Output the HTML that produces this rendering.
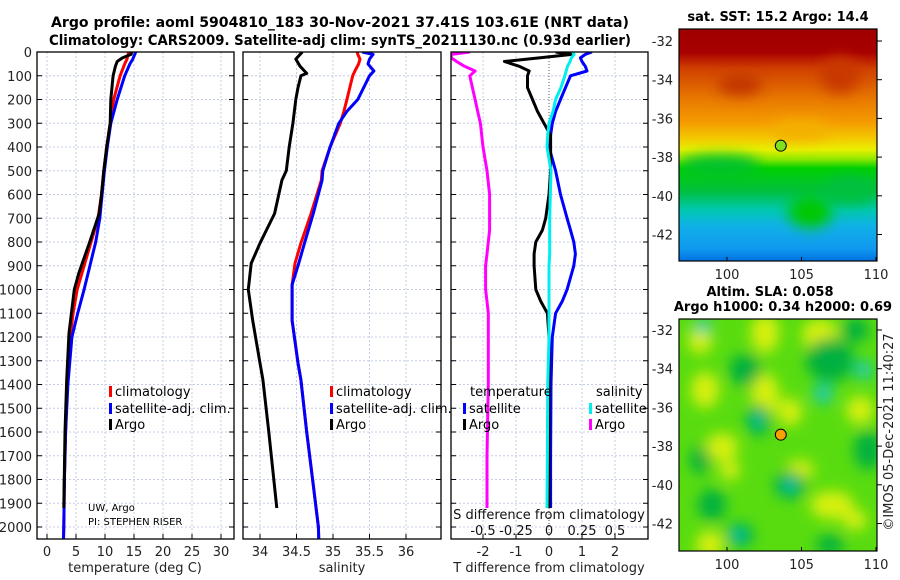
<!DOCTYPE html>
<html><head><meta charset="utf-8"><style>
html,body{margin:0;padding:0;background:#fff;}
svg{display:block;font-family:"DejaVu Sans","Liberation Sans",sans-serif;}
</style></head><body>
<svg id="c" width="900" height="580" xmlns="http://www.w3.org/2000/svg">
<defs>
<linearGradient id="sstg" x1="0" y1="0" x2="0" y2="1">
<stop offset="0" stop-color="#a00000"/><stop offset="0.1" stop-color="#a80000"/>
<stop offset="0.17" stop-color="#d04000"/><stop offset="0.3" stop-color="#e87800"/>
<stop offset="0.4" stop-color="#f49a00"/><stop offset="0.47" stop-color="#f4c800"/>
<stop offset="0.52" stop-color="#e8f000"/><stop offset="0.56" stop-color="#90e800"/>
<stop offset="0.6" stop-color="#00d000"/><stop offset="0.7" stop-color="#00c040"/>
<stop offset="0.78" stop-color="#00c8b0"/><stop offset="0.85" stop-color="#10b0e8"/>
<stop offset="0.95" stop-color="#1098f0"/><stop offset="1" stop-color="#0070e0"/>
</linearGradient>
<filter id="bl" x="-50%" y="-50%" width="200%" height="200%"><feGaussianBlur stdDeviation="7"/></filter>
<clipPath id="cm1"><rect x="679" y="29" width="198" height="232"/></clipPath>
<clipPath id="cm2"><rect x="679" y="319" width="198" height="232"/></clipPath>
<clipPath id="cp1"><rect x="37" y="52" width="197" height="487"/></clipPath>
<clipPath id="cp2"><rect x="243" y="52" width="198" height="487"/></clipPath>
<clipPath id="cp3"><rect x="451" y="52" width="197" height="487"/></clipPath>
</defs>
<text x="340" y="27" text-anchor="middle" font-size="14" font-weight="bold" textLength="578" lengthAdjust="spacingAndGlyphs">Argo profile: aoml 5904810_183 30-Nov-2021 37.41S 103.61E (NRT data)</text>
<text x="340" y="45" text-anchor="middle" font-size="14" font-weight="bold" textLength="582" lengthAdjust="spacingAndGlyphs">Climatology: CARS2009. Satellite-adj clim: synTS_20211130.nc (0.93d earlier)</text>
<g id="panels"></g>
<g id="maps"></g>
</svg>
<script>
// ---- profile data (depth in m) ----
const depthArgoT = [0,10,25,40,60,100,200,300,400,500,600,680,805,930,1000,1100,1184,1380,1600,1920];
const tempArgo   = [14.6,14.5,13.0,12.1,11.8,11.4,11.0,10.9,10.3,9.8,9.4,9.0,7.3,5.5,4.7,4.2,3.8,3.4,3.1,2.9];
const depthClim  = [0,30,50,100,200,300,400,500,600,700,800,900,1000,1100,1200,1400,1600,1800,2000,2100];
const tempClim   = [14.1,13.8,13.4,12.6,11.5,10.9,10.3,9.8,9.4,8.8,7.6,6.4,5.2,4.5,4.0,3.5,3.2,3.0,2.9,2.8];
const tempSat    = [15.3,14.8,14.3,13.4,12.1,11.0,10.4,9.9,9.5,9.1,8.4,7.4,6.4,5.3,4.3,3.6,3.2,3.0,2.9,2.8];
const depthArgoS = [0,30,60,90,100,150,200,300,400,500,540,680,805,890,1000,1130,1310,1380,1600,1920];
const salArgo    = [34.58,34.49,34.55,34.64,34.56,34.52,34.49,34.45,34.40,34.36,34.30,34.20,34.00,33.88,33.84,33.90,34.00,34.04,34.12,34.23];
const depthClimS = [0,10,30,50,80,100,200,250,300,400,500,540,680,805,890,980,1130,1310,1380,1600,1800,2000,2100];
const salClim    = [35.33,35.34,35.37,35.35,35.30,35.27,35.19,35.15,35.10,34.96,34.85,34.84,34.70,34.56,34.48,34.44,34.44,34.52,34.56,34.64,34.72,34.80,34.81];
const salSat     = [35.40,35.55,35.50,35.48,35.56,35.50,35.34,35.19,35.08,34.96,34.86,34.85,34.73,34.61,34.53,34.44,34.44,34.52,34.56,34.64,34.72,34.80,34.81];
// difference panel
const depthDiff  = [0,10,25,40,60,80,100,150,200,250,300,350,400,500,600,700,750,800,850,900,1000,1050,1100,1200,1400,1700,1920];
const tDiffArgo  = [0.2,0.7,-0.3,-1.35,-0.9,-0.6,-0.65,-0.65,-0.5,-0.35,-0.15,0.05,0.05,0.05,0.0,-0.1,-0.2,-0.4,-0.45,-0.45,-0.4,-0.25,-0.05,0.0,0.0,0.0,0.0];
const tDiffSat   = [1.3,1.1,0.95,1.0,1.1,1.15,0.65,0.5,0.35,0.2,0.1,0.05,0.0,0.2,0.35,0.55,0.65,0.75,0.8,0.75,0.55,0.4,0.2,0.1,0.06,0.05,0.05];
const sDiffSat   = [0.18,0.19,0.17,0.16,0.14,0.13,0.12,0.09,0.05,0.03,0.0,-0.01,-0.015,0.015,0.01,0.005,0.005,0.005,0.005,0.0,0.0,0.0,0.0,0.0,-0.01,-0.012,-0.015];
const sDiffArgo  = [-0.6,-0.74,-0.74,-0.7,-0.64,-0.56,-0.6,-0.58,-0.56,-0.54,-0.52,-0.51,-0.5,-0.47,-0.45,-0.45,-0.45,-0.46,-0.47,-0.48,-0.48,-0.47,-0.46,-0.46,-0.46,-0.47,-0.47];
const depthTicks = [0,100,200,300,400,500,600,700,800,900,1000,1100,1200,1300,1400,1500,1600,1700,1800,1900,2000];
const tempTicks  = [0,5,10,15,20,25,30];
const salTicks   = [34,34.5,35,35.5,36];
const tdTicks    = [-2,-1,0,1,2];
const sdTicks    = [-0.5,-0.25,0,0.25,0.5];
const sdTickLabels = ['-0.5','-0.25','0','0.25','0.5'];
const lonTicks   = [100,105,110];
const latTicks   = [-32,-34,-36,-38,-40,-42];
const floatLon = 103.61, floatLat = -37.41;

const NS='http://www.w3.org/2000/svg';
const P=document.getElementById('panels'), M=document.getElementById('maps');
function mk(tag,at,parent,txt){const e=document.createElementNS(NS,tag);for(const k in at)e.setAttribute(k,at[k]);if(txt!==undefined)e.textContent=txt;(parent||P).appendChild(e);return e;}
const TOP=52,BOT=539;
const yD=d=>TOP+d*0.2375;
const xT=v=>47+v*5.8;
const xS=v=>260+(v-34)*73;
const xTD=v=>549+v*33;
const xSD=v=>549+v*132;

function panel(name){
  const g=mk('g',{});
  
  
  return g;
}
function grid(g,x0,w,xs){
  depthTicks.forEach(d=>{const l=mk('line',{x1:x0,x2:x0+w,y1:yD(d),y2:yD(d),stroke:'#c4cce6','stroke-width':1,'stroke-dasharray':'2,2'},g);
    
    mk('line',{x1:x0,x2:x0+5,y1:yD(d),y2:yD(d),stroke:'#000'},g);mk('line',{x1:x0+w-5,x2:x0+w,y1:yD(d),y2:yD(d),stroke:'#000'},g);});
  xs.forEach(x=>{const l=mk('line',{x1:x,x2:x,y1:TOP,y2:BOT,stroke:'#c4cce6','stroke-width':1,'stroke-dasharray':'2,2'},g);
    
    mk('line',{x1:x,x2:x,y1:BOT-5,y2:BOT,stroke:'#000'},g);});
}
function frame(g,x0,w){const r=mk('rect',{x:x0,y:TOP,width:w,height:BOT-TOP,fill:'none',stroke:'#000','stroke-width':1.3},g);}
function line(g,xs,ds,fx,col,clip,name){
  const pts=xs.map((v,i)=>fx(v).toFixed(1)+','+yD(ds[i]).toFixed(1)).join(' ');
  const l=mk('polyline',{points:pts,fill:'none',stroke:col,'stroke-width':3,'stroke-linejoin':'round','clip-path':'url(#'+clip+')'},g);
  
}
function legend(g,x,y,col,txt,name){
  const m=mk('rect',{x:x,y:y-10,width:3,height:11,fill:col},g);
  
  const t=mk('text',{x:x+6,y:y,'font-size':13},g,txt);
  
}
// y tick labels
const yl=mk('g',{});


depthTicks.forEach(d=>mk('text',{x:32,y:yD(d)+5,'text-anchor':'end','font-size':13,fill:'#222'},yl,String(d)));

// Panel 1
let g1=panel('temperature-panel');
grid(g1,37,197,tempTicks.map(xT));
line(g1,tempClim,depthClim,xT,'#f00','cp1','climatology-temp-line');
line(g1,tempSat,depthClim,xT,'#00f','cp1','satellite-temp-line');
line(g1,tempArgo,depthArgoT,xT,'#000','cp1','argo-temp-line');
frame(g1,37,197);
tempTicks.forEach(v=>mk('text',{x:xT(v),y:556,'text-anchor':'middle','font-size':13,fill:'#222'},g1,String(v)));
legend(g1,109,396,'#f00','climatology','legend-climatology');
legend(g1,109,413,'#00f','satellite-adj. clim.','legend-satellite-adj');
legend(g1,109,429,'#000','Argo','legend-argo');
mk('text',{x:88,y:511,'font-size':10},g1,'UW, Argo');
mk('text',{x:88,y:525,'font-size':10},g1,'PI: STEPHEN RISER');
const xl1=mk('text',{x:135,y:572,'text-anchor':'middle','font-size':13,fill:'#222'},g1,'temperature (deg C)');


// Panel 2
let g2=panel('salinity-panel');
grid(g2,243,198,salTicks.map(xS));
line(g2,salClim,depthClimS,xS,'#f00','cp2','climatology-salinity-line');
line(g2,salSat,depthClimS,xS,'#00f','cp2','satellite-salinity-line');
line(g2,salArgo,depthArgoS,xS,'#000','cp2','argo-salinity-line');
frame(g2,243,198);
salTicks.forEach(v=>mk('text',{x:xS(v),y:556,'text-anchor':'middle','font-size':13,fill:'#222'},g2,String(v)));
legend(g2,330,396,'#f00','climatology','legend-climatology-s');
legend(g2,330,413,'#00f','satellite-adj. clim.','legend-satellite-adj-s');
legend(g2,330,429,'#000','Argo','legend-argo-s');
const xl2=mk('text',{x:342,y:572,'text-anchor':'middle','font-size':13,fill:'#222'},g2,'salinity');


// Panel 3
let g3=panel('difference-panel');
grid(g3,451,197,tdTicks.filter(v=>v!==0).map(xTD));
const zl=mk('line',{x1:549,x2:549,y1:TOP,y2:BOT,stroke:'#555','stroke-width':1,'stroke-dasharray':'1,2'},g3);

line(g3,sDiffArgo,depthDiff,xSD,'#f0f','cp3','argo-salinity-diff-line');
line(g3,tDiffSat,depthDiff,xTD,'#00f','cp3','satellite-temp-diff-line');
line(g3,tDiffArgo,depthDiff,xTD,'#000','cp3','argo-temp-diff-line');
line(g3,sDiffSat,depthDiff,xSD,'#0ee','cp3','satellite-salinity-diff-line');
frame(g3,451,197);
tdTicks.forEach(v=>mk('text',{x:xTD(v),y:556,'text-anchor':'middle','font-size':13,fill:'#222'},g3,String(v)));
sdTicks.forEach((v,i)=>mk('text',{x:xSD(v),y:535,'text-anchor':'middle','font-size':13,fill:'#111'},g3,sdTickLabels[i]));
mk('text',{x:549,y:519,'text-anchor':'middle','font-size':13,fill:'#111'},g3,'S difference from climatology');
mk('text',{x:470,y:396,'font-size':13},g3,'temperature');
mk('text',{x:596,y:396,'font-size':13},g3,'salinity');
legend(g3,463,413,'#00f','satellite','legend-t-satellite');
legend(g3,463,429,'#000','Argo','legend-t-argo');
legend(g3,589,413,'#0ee','satellite','legend-s-satellite');
legend(g3,589,429,'#f0f','Argo','legend-s-argo');
const xl3=mk('text',{x:549,y:572,'text-anchor':'middle','font-size':13,fill:'#222'},g3,'T difference from climatology');


// ---- Maps ----
const mxLon=v=>727+(v-100)*14.9;
function mapAxes(g,y0,yLat){
  mk('rect',{x:679,y:y0,width:198,height:232,fill:'none',stroke:'#000','stroke-width':1.2},g);
  lonTicks.forEach(v=>{mk('text',{x:mxLon(v),y:y0+232+18,'text-anchor':'middle','font-size':13,fill:'#222'},g,String(v));
    mk('line',{x1:mxLon(v),x2:mxLon(v),y1:y0+232,y2:y0+228,stroke:'#000'},g);});
  latTicks.forEach(v=>{mk('text',{x:673,y:yLat(v)+5,'text-anchor':'end','font-size':13,fill:'#222'},g,String(v));
    mk('line',{x1:877,x2:882,y1:yLat(v),y2:yLat(v),stroke:'#000'},g);});
}
// SST map
const gm1=mk('g',{},M);


const yLat1=v=>41+(-32-v)*19.35;
mk('rect',{x:679,y:29,width:198,height:232,fill:'url(#sstg)'},gm1);
const sb=mk('g',{'clip-path':'url(#cm1)',filter:'url(#bl)'},gm1);
mk('ellipse',{cx:810,cy:212,rx:22,ry:16,fill:'#00c800'},sb);
mk('ellipse',{cx:850,cy:190,rx:25,ry:14,fill:'#00c040'},sb);
mk('ellipse',{cx:840,cy:75,rx:20,ry:18,fill:'#c83800'},sb);
mk('ellipse',{cx:740,cy:85,rx:22,ry:10,fill:'#c03000'},sb);
mk('ellipse',{cx:800,cy:130,rx:30,ry:10,fill:'#f4b000'},sb);
mk('ellipse',{cx:720,cy:165,rx:40,ry:10,fill:'#00c030'},sb);
mapAxes(gm1,29,yLat1);
const t1=mk('text',{x:778,y:21,'text-anchor':'middle','font-size':13,'font-weight':'bold'},gm1,'sat. SST: 15.2 Argo: 14.4');

const d1=mk('circle',{cx:mxLon(floatLon),cy:yLat1(floatLat),r:5.5,fill:'#80e020',stroke:'#000','stroke-width':1},gm1);


// SLA map
const gm2=mk('g',{},M);


const yLat2=v=>330+(-32-v)*19.35;
mk('rect',{x:679,y:319,width:198,height:232,fill:'#58dc10'},gm2);
const bb=mk('g',{'clip-path':'url(#cm2)',filter:'url(#bl)'},gm2);
[[765,395,14,22],[790,412,12,14],[705,390,14,18],[722,447,16,14],[832,505,22,14],[710,545,14,14],[820,335,18,16],[765,333,14,20],[860,410,14,14],[730,470,10,10],[855,520,12,10],[800,470,14,10],[700,340,12,14]].forEach(b=>mk('ellipse',{cx:b[0],cy:b[1],rx:b[2],ry:b[3],fill:'#d8f010'},bb));
[[758,420,12,16],[790,485,16,14],[712,505,14,16],[740,535,14,12],[868,450,14,20],[830,360,24,22],[745,370,16,16],[700,460,10,14],[855,330,14,12],[830,545,14,10]].forEach(b=>mk('ellipse',{cx:b[0],cy:b[1],rx:b[2],ry:b[3],fill:'#00b040'},bb));
[[703,326,8,7],[823,394,9,9],[864,370,8,9],[758,420,5,6],[738,535,6,6],[790,485,6,6]].forEach(b=>mk('ellipse',{cx:b[0],cy:b[1],rx:b[2],ry:b[3],fill:'#10c8c8'},bb));
mapAxes(gm2,319,yLat2);
mk('text',{x:770,y:296,'text-anchor':'middle','font-size':13,'font-weight':'bold'},gm2,'Altim. SLA: 0.058');
mk('text',{x:783,y:311,'text-anchor':'middle','font-size':13,'font-weight':'bold'},gm2,'Argo h1000: 0.34 h2000: 0.69');
const d2=mk('circle',{cx:mxLon(floatLon),cy:yLat2(floatLat),r:5.5,fill:'#f8a000',stroke:'#000','stroke-width':1},gm2);

const cp=mk('text',{x:0,y:0,'text-anchor':'middle','font-size':13,fill:'#222',transform:'translate(893,432) rotate(-90)'},gm2,'©IMOS 05-Dec-2021 11:40:27');

</script>
</body></html>
